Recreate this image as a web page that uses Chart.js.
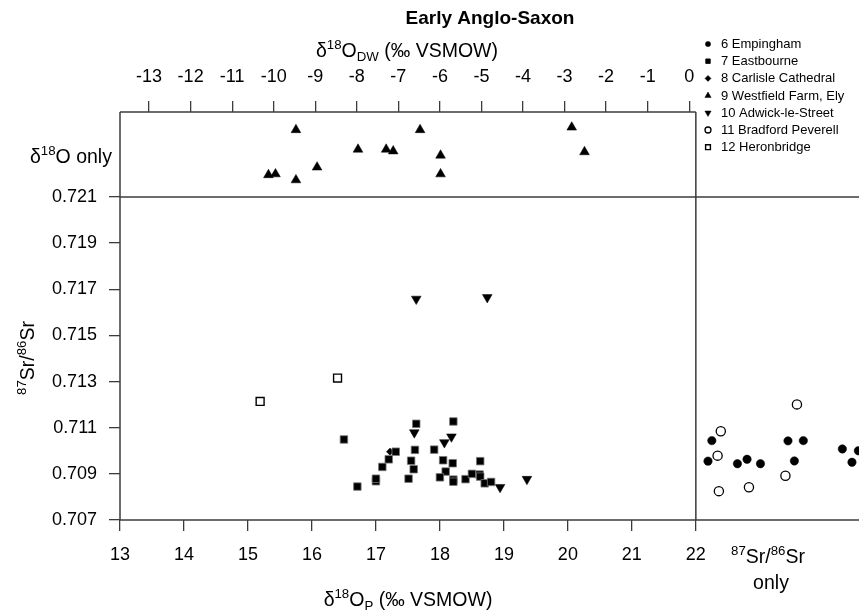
<!DOCTYPE html>
<html><head><meta charset="utf-8">
<script src="https://cdn.jsdelivr.net/npm/chart.js@4/dist/chart.umd.min.js"></script>
<style>html,body{margin:0;padding:0;background:#fff;overflow:hidden}#wrap{width:859px;height:615px;position:relative}</style>
</head><body><div id="wrap"><canvas id="c" width="859" height="615"></canvas></div>
<script>
// ---------- data ----------
const chartTitle = 'Early Anglo-Saxon';
const seriesNames = ['6 Empingham','7 Eastbourne','8 Carlisle Cathedral','9 Westfield Farm, Ely','10 Adwick-le-Street','11 Bradford Peverell','12 Heronbridge'];

const xTicksBottom = [13,14,15,16,17,18,19,20,21,22];
const xTicksTop = [-13,-12,-11,-10,-9,-8,-7,-6,-5,-4,-3,-2,-1,0];
const yTicks = [0.707,0.709,0.711,0.713,0.715,0.717,0.719,0.721];

// drinking water conversion: d18O_DW = 1.54 * d18O_P - 33.72
const dwSlope = 1.54, dwIntercept = -33.72;

// Eastbourne: d18O_P and 87Sr/86Sr
const eastbourneO  = [16.50,16.71,17.00,17.00,17.10,17.20,17.31,17.63,17.61,17.55,17.59,17.51,17.91,18.05,18.20,18.09,18.00,18.21,18.21,18.21,18.40,18.50,18.63,18.62,18.63,18.70,18.80];
const eastbourneSr = [0.71049,0.70845,0.70868,0.70879,0.70930,0.70963,0.70996,0.71117,0.71004,0.70957,0.70920,0.70879,0.71005,0.70959,0.70946,0.70910,0.70885,0.71127,0.70875,0.70866,0.70877,0.70900,0.70955,0.70897,0.70888,0.70859,0.70865];

// Carlisle Cathedral
const carlisleO  = [17.22];
const carlisleSr = [0.70996];

// Adwick-le-Street
const adwickO  = [17.63,18.74,17.60,18.07,18.18,18.94,19.36];
const adwickSr = [0.71658,0.71665,0.71079,0.71036,0.71061,0.70842,0.70877];

// Heronbridge
const heronO  = [15.19,16.40];
const heronSr = [0.71214,0.71315];

// Westfield Farm: d18O only (vertical position within the "d18O only" strip, 0..1)
const westfieldO   = [15.75,15.32,15.43,15.75,16.08,16.72,17.16,17.27,17.69,18.01,18.01,20.06,20.26];
const westfieldPos = [0.79,0.26,0.27,0.20,0.35,0.56,0.56,0.54,0.79,0.49,0.27,0.82,0.53];

// Sr only strip (horizontal position right of 22)
const empinghamPos = [22.25,22.19,22.65,22.80,23.01,23.44,23.68,23.54,24.29,24.44,24.54];
const empinghamSr  = [0.71044,0.70955,0.70944,0.70963,0.70944,0.71043,0.71044,0.70956,0.71008,0.70950,0.71000];
const bradfordPos = [22.39,22.34,22.36,22.83,23.58,23.40];
const bradfordSr  = [0.71085,0.70979,0.70825,0.70842,0.71201,0.70892];

const xMin = 13, xMax = 24.55, xSplit = 22;

// ---------- chart ----------
const FONT = "'Liberation Sans', Arial, Helvetica, sans-serif";
const LINE = '#3c3c3c';
const pts = (xs, ys) => xs.map((x, i) => ({x: x, y: ys[i]}));

const datasets = [
  {label: seriesNames[0], data: pts(empinghamPos, empinghamSr), pointStyle: 'circle', pointRadius: 4.2, backgroundColor: '#000', borderColor: '#000', borderWidth: 0.5, lr: 2.6},
  {label: seriesNames[1], data: pts(eastbourneO, eastbourneSr), pointStyle: 'rect', pointRadius: 5.3, backgroundColor: '#000', borderColor: '#777', borderWidth: 0.8, lr: 3.2},
  {label: seriesNames[2], data: pts(carlisleO, carlisleSr), pointStyle: 'rectRot', pointRadius: 3.6, backgroundColor: '#000', borderColor: '#000', borderWidth: 0.5, lr: 3.0},
  {label: seriesNames[3], data: pts(westfieldO, westfieldPos), yAxisID: 'yTop', pointStyle: 'triangle', pointRadius: 5.6, backgroundColor: '#000', borderColor: '#000', borderWidth: 0.5, lr: 3.6},
  {label: seriesNames[4], data: pts(adwickO, adwickSr), pointStyle: 'triangle', rotation: 180, pointRadius: 5.6, backgroundColor: '#000', borderColor: '#000', borderWidth: 0.5, lr: 3.6},
  {label: seriesNames[5], data: pts(bradfordPos, bradfordSr), pointStyle: 'circle', pointRadius: 4.6, backgroundColor: '#fff', borderColor: '#000', borderWidth: 1.3, lr: 3.0},
  {label: seriesNames[6], data: pts(heronO, heronSr), pointStyle: 'rect', pointRadius: 5.6, backgroundColor: '#fff', borderColor: '#000', borderWidth: 1.4, lr: 3.4}
].map(d => Object.assign({showLine: false, pointHoverRadius: d.pointRadius, pointRotation: d.rotation || 0}, d));

function fontStr(size, bold) { return (bold ? 'bold ' : '') + size + 'px ' + FONT; }
function drawRich(ctx, parts, x, y, size, align) {
  const sub = size * 0.68;
  let w = 0;
  parts.forEach(p => { ctx.font = fontStr(p.s ? sub : size); w += ctx.measureText(p.t).width; });
  let cx = align === 'center' ? x - w / 2 : (align === 'right' ? x - w : x);
  ctx.textAlign = 'left'; ctx.textBaseline = 'alphabetic'; ctx.fillStyle = '#000';
  parts.forEach(p => {
    ctx.font = fontStr(p.s ? sub : size);
    const dy = p.s === 'sup' ? -size * 0.42 : (p.s === 'sub' ? size * 0.2 : 0);
    ctx.fillText(p.t, cx, y + dy);
    cx += ctx.measureText(p.t).width;
  });
}

function drawMarker(ctx, ds, x, y, r) {
  ctx.save();
  ctx.fillStyle = ds.backgroundColor; ctx.strokeStyle = ds.borderColor === '#777' ? '#000' : ds.borderColor;
  ctx.lineWidth = ds.borderWidth;
  if (Chart.helpers && Chart.helpers.drawPoint) {
    Chart.helpers.drawPoint(ctx, {pointStyle: ds.pointStyle, radius: r, rotation: ds.rotation || 0, borderWidth: ds.borderWidth}, x, y);
  }
  ctx.restore();
}

const decor = {
  id: 'decor',
  beforeDatasetsDraw(chart) {
    const ctx = chart.ctx, ca = chart.chartArea;
    const xs = chart.scales.x, ys = chart.scales.y;
    const x22 = xs.getPixelForValue(xSplit);
    const ySplit = ys.getPixelForValue(yTicks[yTicks.length - 1]);
    ctx.save();
    ctx.strokeStyle = LINE; ctx.lineWidth = 1.5; ctx.lineCap = 'butt';
    ctx.beginPath();
    ctx.moveTo(ca.left, ca.top); ctx.lineTo(ca.left, ca.bottom);          // left axis
    ctx.moveTo(ca.left, ca.top); ctx.lineTo(x22, ca.top);                 // top of d18O strip
    ctx.moveTo(x22, ca.top); ctx.lineTo(x22, ca.bottom);                  // split at 22
    ctx.moveTo(ca.left, ySplit); ctx.lineTo(chart.width, ySplit);         // split at 0.721
    ctx.moveTo(ca.left, ca.bottom); ctx.lineTo(chart.width, ca.bottom);   // bottom axis
    ctx.stroke();
    ctx.restore();
  },
  afterDraw(chart) {
    const ctx = chart.ctx;
    ctx.save();
    // title
    ctx.fillStyle = '#000'; ctx.font = fontStr(19, true); ctx.textAlign = 'center'; ctx.textBaseline = 'middle';
    ctx.fillText(chartTitle, 490, 19);
    // top axis title
    drawRich(ctx, [{t: 'δ'}, {t: '18', s: 'sup'}, {t: 'O'}, {t: 'DW', s: 'sub'}, {t: ' (‰ VSMOW)'}], 407, 57, 19.5, 'center');
    // bottom axis title
    drawRich(ctx, [{t: 'δ'}, {t: '18', s: 'sup'}, {t: 'O'}, {t: 'P', s: 'sub'}, {t: ' (‰ VSMOW)'}], 408, 606, 19.5, 'center');
    // d18O only
    drawRich(ctx, [{t: 'δ'}, {t: '18', s: 'sup'}, {t: 'O only'}], 30, 163, 19.5, 'left');
    // Sr only
    drawRich(ctx, [{t: '87', s: 'sup'}, {t: 'Sr/'}, {t: '86', s: 'sup'}, {t: 'Sr'}], 768, 563, 19.5, 'center');
    ctx.font = fontStr(19.5); ctx.textAlign = 'center'; ctx.textBaseline = 'alphabetic';
    ctx.fillText('only', 771, 589);
    // y axis title
    ctx.save();
    ctx.translate(34, 358); ctx.rotate(-Math.PI / 2);
    drawRich(ctx, [{t: '87', s: 'sup'}, {t: 'Sr/'}, {t: '86', s: 'sup'}, {t: 'Sr'}], 0, 0, 19.5, 'center');
    ctx.restore();
    // legend
    chart.data.datasets.forEach((ds, i) => {
      const y = 44 + i * 17.2;
      drawMarker(ctx, ds, 708, y, ds.lr);
      ctx.fillStyle = '#000'; ctx.font = fontStr(13); ctx.textAlign = 'left'; ctx.textBaseline = 'middle';
      ctx.fillText(ds.label, 721, y + 0.5);
    });
    ctx.restore();
  }
};

function noPad(s) { s.paddingLeft = 0; s.paddingRight = 0; s.paddingTop = 0; s.paddingBottom = 0; }
const tickFont = {family: FONT, size: 18};
new Chart(document.getElementById('c').getContext('2d'), {
  type: 'scatter',
  data: {datasets: datasets},
  options: {
    responsive: false, animation: false, events: [],
    layout: {padding: 0, autoPadding: false},
    plugins: {legend: {display: false}, title: {display: false}, tooltip: {enabled: false}},
    scales: {
      x: {
        type: 'linear', position: 'bottom', min: xMin, max: xMax,
        afterBuildTicks: s => { s.ticks = xTicksBottom.map(v => ({value: v})); },
        afterFit: s => { s.height = 95; noPad(s); },
        grid: {display: true, drawOnChartArea: false, drawTicks: true, tickLength: 11, color: LINE, lineWidth: 1.3},
        border: {display: false},
        ticks: {font: tickFont, color: '#000', padding: 13, maxRotation: 0, autoSkip: false}
      },
      x2: {
        type: 'linear', position: 'top',
        min: dwSlope * xMin + dwIntercept, max: dwSlope * xMax + dwIntercept,
        afterBuildTicks: s => { s.ticks = xTicksTop.map(v => ({value: v})); },
        afterFit: s => { s.height = 112; noPad(s); },
        grid: {display: true, drawOnChartArea: false, drawTicks: true, tickLength: 11, color: LINE, lineWidth: 1.3},
        border: {display: false},
        ticks: {font: tickFont, color: '#000', padding: 13, maxRotation: 0, autoSkip: false}
      },
      y: {
        type: 'linear', position: 'left', stack: 'v', stackWeight: 323, min: 0.707, max: 0.721,
        afterBuildTicks: s => { s.ticks = yTicks.map(v => ({value: v})); },
        afterFit: s => { s.width = 120; noPad(s); },
        grid: {display: true, drawOnChartArea: false, drawTicks: true, tickLength: 11, color: LINE, lineWidth: 1.3},
        border: {display: false},
        ticks: {font: tickFont, color: '#000', padding: 12, autoSkip: false, callback: v => v.toFixed(3)}
      },
      yTop: {
        type: 'linear', position: 'left', stack: 'v', stackWeight: 85, min: 0, max: 1,
        afterFit: s => { s.width = 120; noPad(s); },
        grid: {display: false}, border: {display: false},
        ticks: {display: false}
      }
    }
  },
  plugins: [decor]
});
</script>
</body></html>
